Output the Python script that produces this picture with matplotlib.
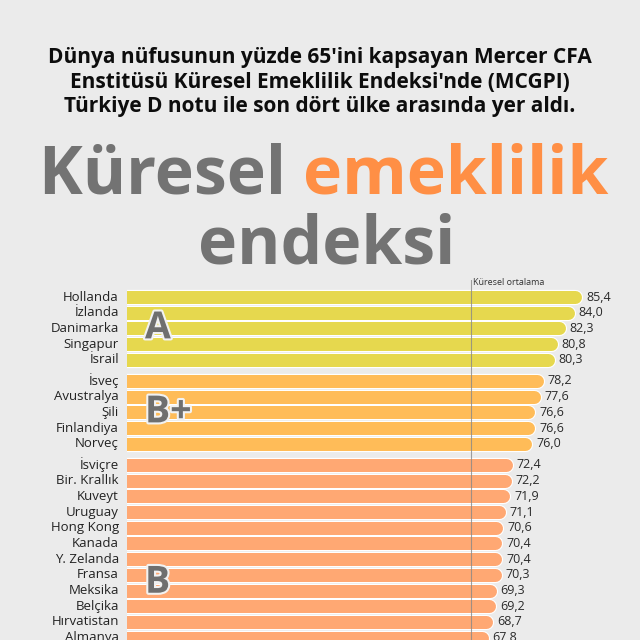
import numpy as np
import matplotlib.pyplot as plt
import matplotlib.patheffects as pe

#==================================================================#
countries = ['Hollanda', 'İzlanda', 'Danimarka', 'Singapur', 'İsrail',
             'İsveç', 'Avustralya', 'Şili', 'Finlandiya', 'Norveç',
             'İsviçre', 'Bir. Krallık', 'Kuveyt', 'Uruguay', 'Hong Kong',
             'Kanada', 'Y. Zelanda', 'Fransa', 'Meksika', 'Belçika',
             'Hırvatistan', 'Almanya']
values = [85.4, 84.0, 82.3, 80.8, 80.3,
          78.2, 77.6, 76.6, 76.6, 76.0,
          72.4, 72.2, 71.9, 71.1, 70.6, 70.4, 70.4, 70.3, 69.3, 69.2, 68.7, 67.8]
grades = ['A'] * 5 + ['B+'] * 5 + ['B'] * 12
grade_names = ['A', 'B+', 'B']
grade_colors = {'A': '#E6D84E', 'B+': '#FFBC58', 'B': '#FFA873'}
global_avg = 64.5

header = ("Dünya nüfusunun yüzde 65'ini kapsayan Mercer CFA\n"
          "Enstitüsü Küresel Emeklilik Endeksi'nde (MCGPI)\n"
          "Türkiye D notu ile son dört ülke arasında yer aldı.")

BG = '#EBEBEB'
GREY = '#737373'
FONT = 'Open Sans'
#==================================================================#

fig = plt.figure(figsize=(6.4, 6.4), dpi=100, facecolor=BG)

# header and big title
fig.text(0.5, 1 - 82 / 640, header, ha='center', va='center', fontsize=15,
         fontweight='bold', family=FONT, color='#0d0d0d', linespacing=1.2)
fig.text(303 / 640, 1 - 193 / 640, 'Küresel ', ha='right', va='baseline', fontsize=47.5,
         fontweight='bold', family=FONT, color=GREY)
fig.text(303 / 640, 1 - 193 / 640, 'emeklilik', ha='left', va='baseline', fontsize=47.5,
         fontweight='bold', family=FONT, color='#FF8F45')
fig.text(327 / 640, 1 - 263 / 640, 'endeksi', ha='center', va='baseline', fontsize=47.5,
         fontweight='bold', family=FONT, color=GREY)

# bar axes: 0 at x=127px, 5.32 px per point, rows 15.7 px apart
ax = fig.add_axes([127.4 / 640, 1 - 700 / 640, 512.6 / 640, 420 / 640])
ax.set_facecolor(BG)
ax.set_xlim(0, 512.6 / 5.32)
row_px = 15.7
ax.set_ylim((700 - 297) / row_px, -17 / row_px)
for s in ax.spines.values():
    s.set_visible(False)
ax.set_xticks([])
ax.set_yticks([])

gap = 0.35
ypos = [i + gap * grade_names.index(g) for i, g in enumerate(grades)]

bar_px = 13.0
lw = bar_px * 72 / 100
r = (bar_px / 2) / 5.32

for y, v in zip(ypos, values):
    ax.plot([-5, v - r], [y, y], color='white', lw=lw + 1.6, solid_capstyle='round', zorder=1)
for y, v, g in zip(ypos, values, grades):
    ax.plot([-5, v - r], [y, y], color=grade_colors[g], lw=lw, solid_capstyle='round', zorder=2)
    ax.text(v + 0.8, y, f'{v:.1f}'.replace('.', ','), ha='left', va='center',
            fontsize=9, family=FONT, color='#2a2a2a')
for y, c in zip(ypos, countries):
    ax.text(-1.6, y, c, ha='right', va='center', fontsize=9.5, family=FONT,
            color='#222222', clip_on=False)

# global average line
ax.axvline(global_avg, ymin=0, ymax=1, color='#888888', lw=0.8, alpha=0.8, zorder=3)
ax.text(global_avg + 0.5, -0.95, 'Küresel ortalama', ha='left', va='center',
        fontsize=6.5, family=FONT, color='#333333')

# grade letters
for g in grade_names:
    ys = [y for y, gg in zip(ypos, grades) if gg == g]
    yc = np.mean(ys) if g != 'B' else ypos[grades.index('B')] + 7.5
    ax.text(3.3, yc, g, ha='left', va='center', fontsize=27, fontweight='bold',
            family=FONT, color='#6f6f6f', zorder=5,
            path_effects=[pe.withStroke(linewidth=3, foreground='#f2f2f2')])

fig.savefig('out.png', dpi=100, facecolor=BG)
